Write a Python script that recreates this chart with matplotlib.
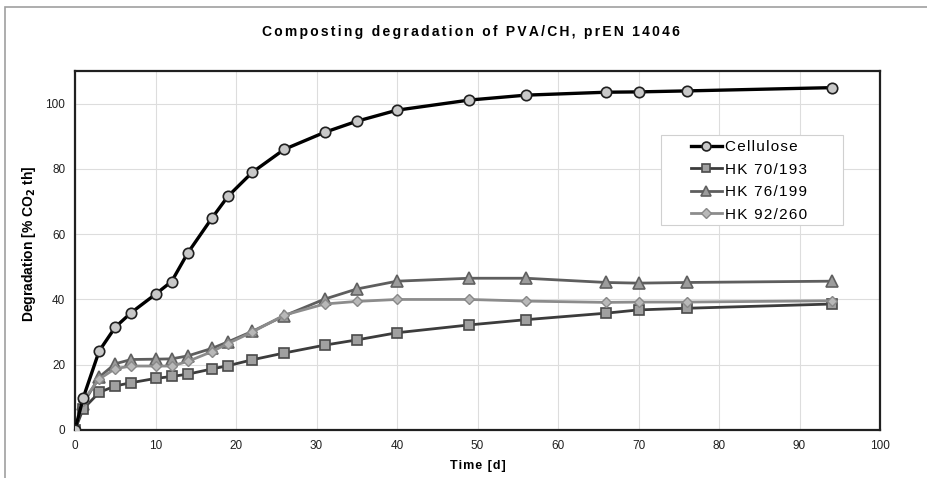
import matplotlib.pyplot as plt
from matplotlib.patches import Rectangle

plt.rcParams['font.family'] = ['Liberation Sans', 'DejaVu Sans']

# === DATA ===
days = [0, 1, 3, 5, 7, 10, 12, 14, 17, 19, 22, 26, 31, 35, 40, 49, 56, 66, 70, 76, 94]
cellulose = [0, 9.7, 24.2, 31.5, 36, 41.6, 45.5, 54.2, 64.9, 71.6, 78.9, 86, 91.2, 94.6,
             98, 101.1, 102.6, 103.5, 103.6, 103.9, 104.9]
hk_70_193 = [0, 6.4, 11.5, 13.5, 14.5, 15.8, 16.4, 17.1, 18.7, 19.7, 21.5, 23.6, 26, 27.6,
             29.8, 32.2, 33.8, 35.8, 36.8, 37.3, 38.6]
hk_76_199 = [0, 8, 16.2, 20.3, 21.6, 21.7, 21.8, 22.7, 25, 27, 30.2, 35, 40.1, 43.2,
             45.6, 46.5, 46.5, 45.2, 45, 45.2, 45.6]
hk_92_260 = [0, 9, 15.6, 18.8, 19.6, 19.6, 19.6, 21, 24, 26.5, 30, 35.2, 38.6, 39.4,
             40, 40, 39.5, 39.1, 39.2, 39.2, 39.6]
labels = ["Cellulose", "HK 70/193", "HK 76/199", "HK 92/260"]
title = "Composting degradation of PVA/CH, prEN 14046"
# =============

HAIR = "\u200a"
W, H = 927, 478


def spaced(s, n=1):
    # Excel-like wide letter spacing
    return (HAIR * n).join(s)


def fx(px):
    return px / W


def fy(py):
    return 1 - py / H


fig = plt.figure(figsize=(W / 100, H / 100), dpi=100)
ax = fig.add_axes([fx(75), 48 / H, 805 / W, 359 / H])

# chart-area frame (Excel style)
fig.patches.append(Rectangle((fx(5), -0.1), 1.2, fy(7) + 0.1,
                             transform=fig.transFigure, fill=False,
                             edgecolor="#a0a0a0", linewidth=1.2))

ax.plot(days, cellulose, color="black", lw=2.4, marker="o", ms=7.5,
        mfc="#c8c8c8", mec="#202020", mew=1.2, label=spaced(labels[0]), zorder=5)
ax.plot(days, hk_70_193, color="#3c3c3c", lw=2.0, marker="s", ms=7,
        mfc="#a0a0a0", mec="#4a4a4a", mew=1.2, label=spaced(labels[1]), zorder=4)
ax.plot(days, hk_76_199, color="#5e5e5e", lw=2.0, marker="^", ms=8,
        mfc="#9c9c9c", mec="#606060", mew=1.2, label=spaced(labels[2]), zorder=3)
ax.plot(days, hk_92_260, color="#8c8c8c", lw=2.0, marker="D", ms=5.5,
        mfc="#b8b8b8", mec="#888888", mew=1.0, label=spaced(labels[3]), zorder=4)

ax.set_xlim(0, 100)
ax.set_ylim(0, 110)
ax.set_xticks(range(0, 101, 10))
ax.set_yticks(range(0, 101, 20))
ax.grid(True, color="#dddddd", lw=0.8)
ax.set_axisbelow(True)
for s in ax.spines.values():
    s.set_color("#202020")
    s.set_linewidth(1.6)
ax.tick_params(labelsize=8.5, colors="#202020", length=0, pad=7)

ax.set_xlabel(spaced("Time [d]"), fontsize=9, fontweight="bold", labelpad=6)
ax.set_ylabel(r"Degradation [% CO$_\mathbf{2}$ th]", fontsize=10, fontweight="bold")
ax.yaxis.set_label_coords(-0.046, 0.52)
fig.text(fx(471), fy(32), spaced(title, 2),
         ha="center", va="center", fontsize=10, fontweight="bold")

# legend box drawn separately to get Excel's wide left padding
fig.patches.append(Rectangle((fx(661), fy(225)), (843 - 661) / W, (225 - 135) / H,
                             transform=fig.transFigure, facecolor="white",
                             edgecolor="#d0d0d0", linewidth=0.8, zorder=6))
leg = ax.legend(loc="upper left", bbox_to_anchor=(fx(691), fy(140)),
                bbox_transform=fig.transFigure, fontsize=11, frameon=False,
                handlelength=2.0, handletextpad=0.25, borderpad=0,
                labelspacing=0.56, borderaxespad=0, markerscale=0.85)
leg.set_zorder(7)
leg.remove()
fig.add_artist(leg)

fig.savefig("out.png", dpi=100)
